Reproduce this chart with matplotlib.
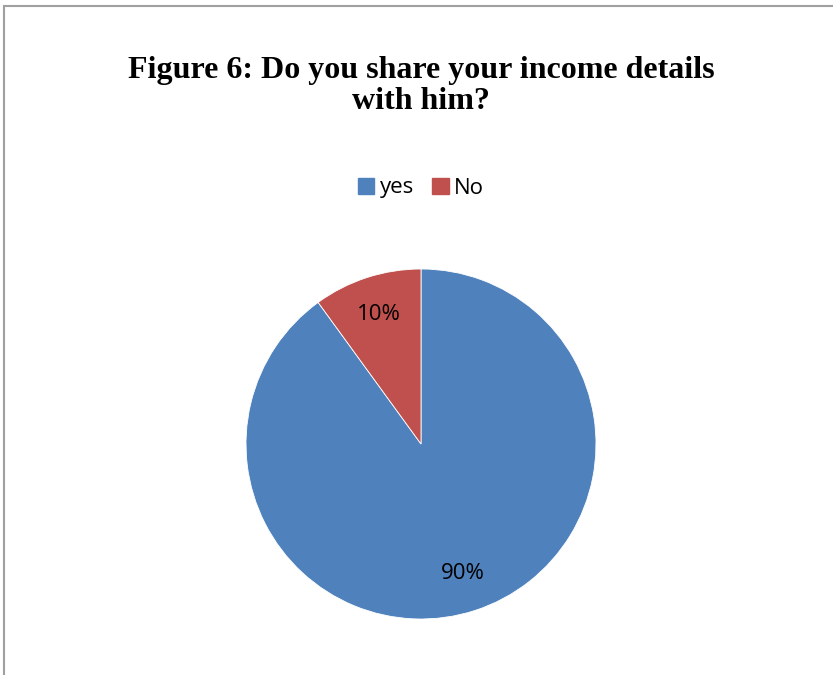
import matplotlib.pyplot as plt
from matplotlib.patches import Rectangle
from matplotlib.lines import Line2D

labels = ['yes', 'No']
values = [90, 10]
colors = ['#4F81BD', '#C0504D']

W, H = 833, 675
fig = plt.figure(figsize=(W / 100, H / 100), dpi=100)

# рамка (верх и левая сторона)
fig.add_artist(Line2D([3.5 / W, 3.5 / W], [0, 1 - 5.5 / H], color='#a0a0a0', lw=1.5))
fig.add_artist(Line2D([3.5 / W, 1], [1 - 5.5 / H, 1 - 5.5 / H], color='#a0a0a0', lw=1.5))

fig.text(421 / W, 1 - 86 / H, 'Figure 6: Do you share your income details\nwith him?',
         ha='center', va='center', fontsize=23, fontweight='bold',
         family='Liberation Serif', linespacing=1.12)

# круговая диаграмма
cx, cy, r = 421, 444, 175
ax = fig.add_axes([(cx - r) / W, (H - cy - r) / H, 2 * r / W, 2 * r / H])
wedges, texts, autotexts = ax.pie(values, colors=colors, startangle=90, counterclock=False,
                                  autopct='%1.0f%%', pctdistance=0.78,
                                  wedgeprops=dict(edgecolor='white', linewidth=0.6),
                                  textprops=dict(fontsize=16, family='Open Sans', color='black'))
ax.set_aspect('equal')
ax.set_xlim(-1, 1)
ax.set_ylim(-1, 1)

handles = [Rectangle((0, 0), 1, 1, color=c) for c in colors]
fig.legend(handles, labels, loc='center', bbox_to_anchor=(421 / W, 1 - 188 / H), ncol=2,
           frameon=False, handlelength=0.75, handleheight=0.75, handletextpad=0.25,
           columnspacing=0.8, prop=dict(family='Open Sans', size=16))

fig.savefig('out.png', dpi=100)
